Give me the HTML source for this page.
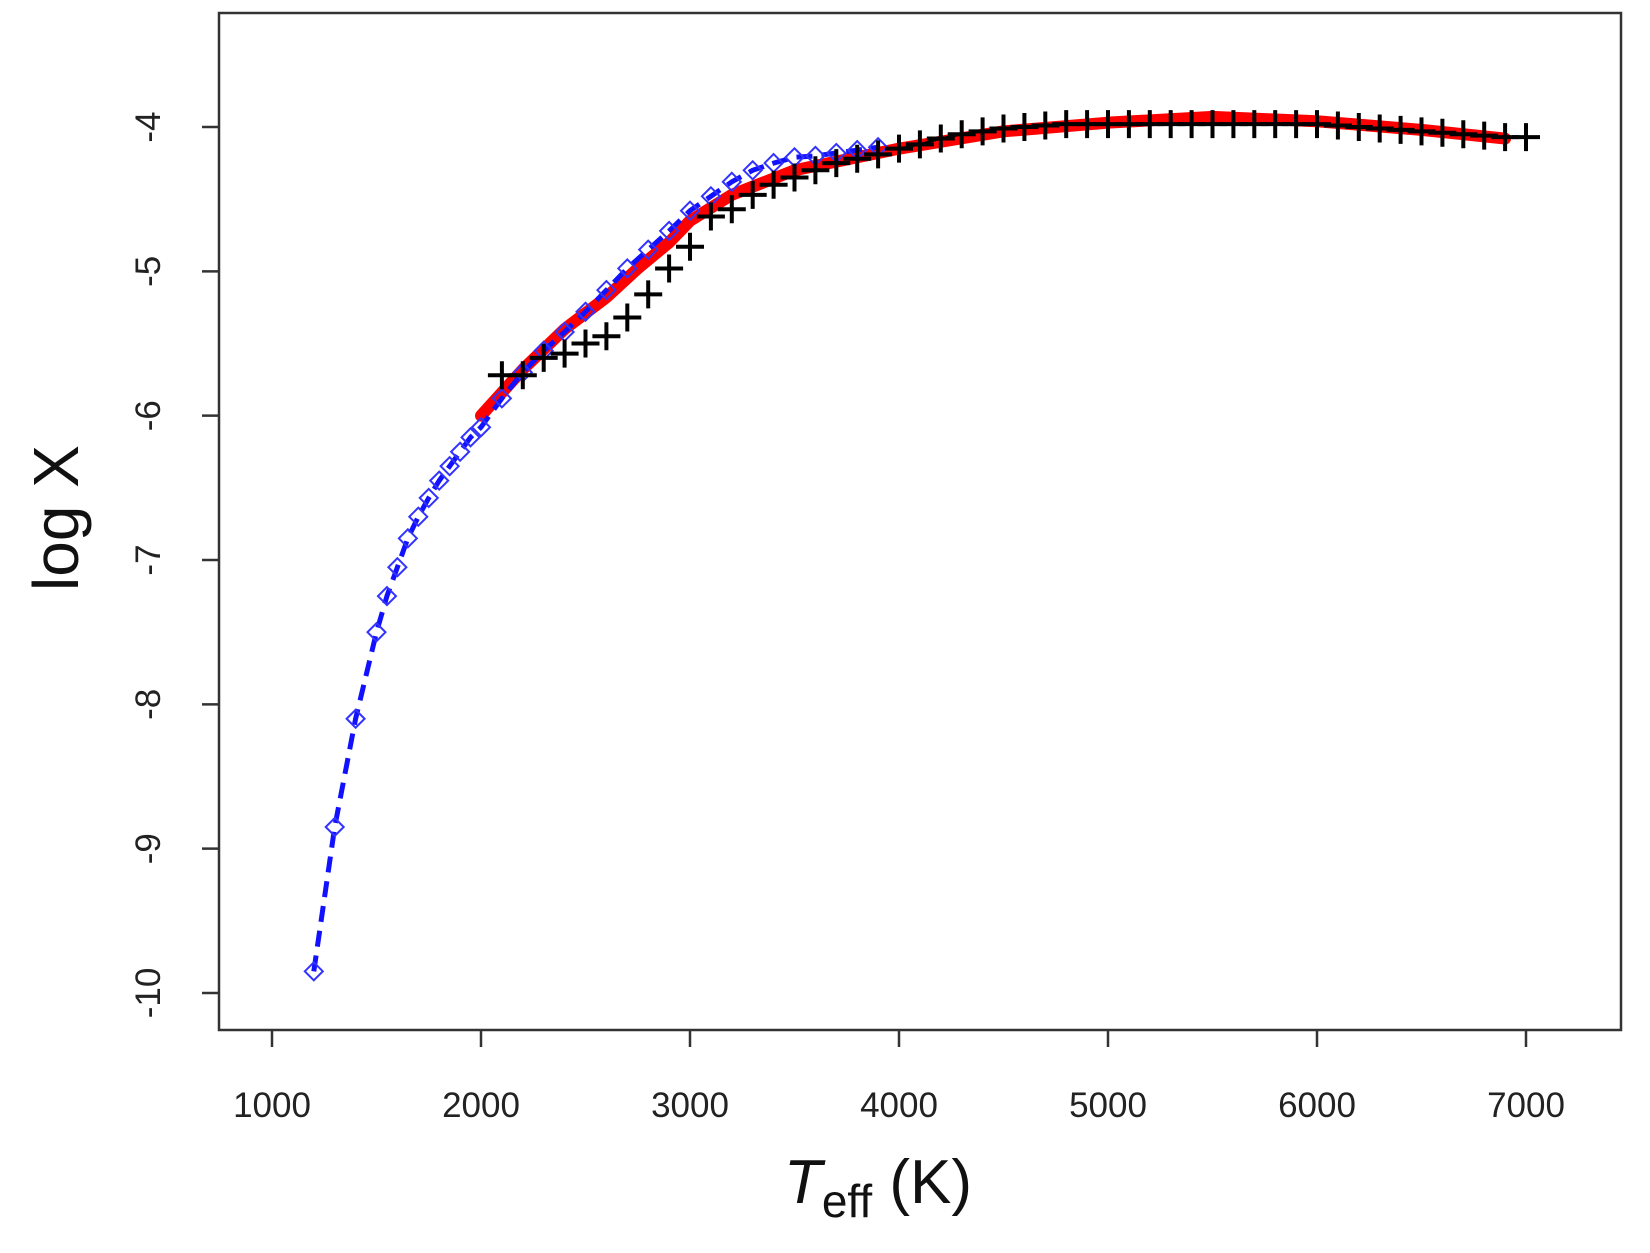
<!DOCTYPE html>
<html><head><meta charset="utf-8"><style>
html,body{margin:0;padding:0;background:#fff;}
svg{display:block;font-family:"Liberation Sans",sans-serif;}
</style></head><body>
<svg id="chart" width="1650" height="1253" viewBox="0 0 1650 1253">
<rect x="219" y="13" width="1402" height="1017" fill="none" stroke="#333" stroke-width="2.5"/>
<g id="axes"></g>
<g id="series"></g>
<text x="878" y="1203" text-anchor="middle" font-size="62" fill="#111"><tspan font-style="italic">T</tspan><tspan font-size="46" dy="14">eff</tspan><tspan dy="-14"> (K)</tspan></text>
<text transform="translate(78,518) rotate(-90)" text-anchor="middle" font-size="64" fill="#111">log X</text>
</svg>
<script>
const xTicks=[1000,2000,3000,4000,5000,6000,7000];
const yTicks=[-4,-5,-6,-7,-8,-9,-10];
const blueT=[1200,1300,1400,1500,1550,1600,1650,1700,1750,1800,1850,1900,1950,2000,2100,2200,2300,2400,2500,2600,2700,2800,2900,3000,3100,3200,3300,3400,3500,3600,3700,3800,3900];
const blueV=[-9.85,-8.85,-8.1,-7.5,-7.25,-7.05,-6.85,-6.7,-6.57,-6.45,-6.35,-6.25,-6.15,-6.08,-5.88,-5.7,-5.55,-5.42,-5.28,-5.13,-4.98,-4.85,-4.72,-4.58,-4.48,-4.38,-4.3,-4.25,-4.21,-4.2,-4.18,-4.16,-4.14];
const redT=[2000,2200,2400,2600,2750,2900,3000,3200,3500,4000,4500,5000,5500,6000,6500,6900];
const redV=[-6.0,-5.68,-5.4,-5.18,-4.98,-4.8,-4.65,-4.47,-4.3,-4.15,-4.03,-3.97,-3.93,-3.96,-4.02,-4.08];
const crossT=[2100,2200,2300,2400,2500,2600,2700,2800,2900,3000,3100,3200,3300,3400,3500,3600,3700,3800,3900,4000,4100,4200,4300,4400,4500,4600,4700,4800,4900,5000,5100,5200,5300,5400,5500,5600,5700,5800,5900,6000,6100,6200,6300,6400,6500,6600,6700,6800,6900,7000];
const crossV=[-5.72,-5.72,-5.6,-5.57,-5.5,-5.45,-5.32,-5.16,-4.98,-4.83,-4.62,-4.57,-4.47,-4.4,-4.35,-4.3,-4.25,-4.22,-4.19,-4.15,-4.12,-4.08,-4.05,-4.03,-4.01,-4.0,-3.99,-3.98,-3.98,-3.98,-3.98,-3.98,-3.98,-3.98,-3.98,-3.98,-3.98,-3.98,-3.98,-3.98,-3.99,-4.0,-4.01,-4.02,-4.03,-4.04,-4.05,-4.06,-4.07,-4.07];
const lineStart=4000;

const NS="http://www.w3.org/2000/svg";
const X=t=>272+(t-1000)*(1526-272)/6000;
const Y=v=>127+(-4-v)*(993-127)/6;
function mk(tag,attrs,parent){const e=document.createElementNS(NS,tag);for(const k in attrs)e.setAttribute(k,attrs[k]);parent.appendChild(e);return e;}
const axes=document.getElementById('axes'), ser=document.getElementById('series');
xTicks.forEach(t=>{
  const l=mk('line',{x1:X(t),x2:X(t),y1:1030,y2:1047,stroke:'#333','stroke-width':2.5},axes);
  
  
  const tx=mk('text',{x:X(t),y:1117,'text-anchor':'middle','font-size':35,fill:'#222'},axes);
  tx.textContent=t;
  
  
});
yTicks.forEach(v=>{
  const l=mk('line',{x1:202,x2:219,y1:Y(v),y2:Y(v),stroke:'#333','stroke-width':2.5},axes);
  
  
  const tx=mk('text',{transform:`translate(160,${Y(v)}) rotate(-90)`,'text-anchor':'middle','font-size':35,fill:'#222'},axes);
  tx.textContent=v;
  
  
});
const pts=(T,V)=>T.map((t,i)=>X(t)+','+Y(V[i])).join(' ');
const red=mk('polyline',{points:pts(redT,redV),fill:'none',stroke:'#f00','stroke-width':12,'stroke-linecap':'round','stroke-linejoin':'round'},ser);


const blue=mk('polyline',{points:pts(blueT,blueV),fill:'none',stroke:'#11f','stroke-width':5,'stroke-dasharray':'16 9'},ser);


blueT.forEach((t,i)=>{
  const x=X(t),y=Y(blueV[i]),s=9;
  const d=mk('polygon',{points:`${x},${y-s} ${x+s},${y} ${x},${y+s} ${x-s},${y}`,fill:'none',stroke:'#33f','stroke-width':2},ser);
  
  
});
const ci=crossT.map((t,i)=>i).filter(i=>crossT[i]>=lineStart);
const bl=mk('polyline',{points:ci.map(i=>X(crossT[i])+','+Y(crossV[i])).join(' '),fill:'none',stroke:'#000','stroke-width':2.5},ser);


crossT.forEach((t,i)=>{
  const x=X(t),y=Y(crossV[i]),s=14;
  const p=mk('path',{d:`M${x-s},${y}H${x+s}M${x},${y-s}V${y+s}`,stroke:'#000','stroke-width':4},ser);
  
  
});
</script>
</body></html>
